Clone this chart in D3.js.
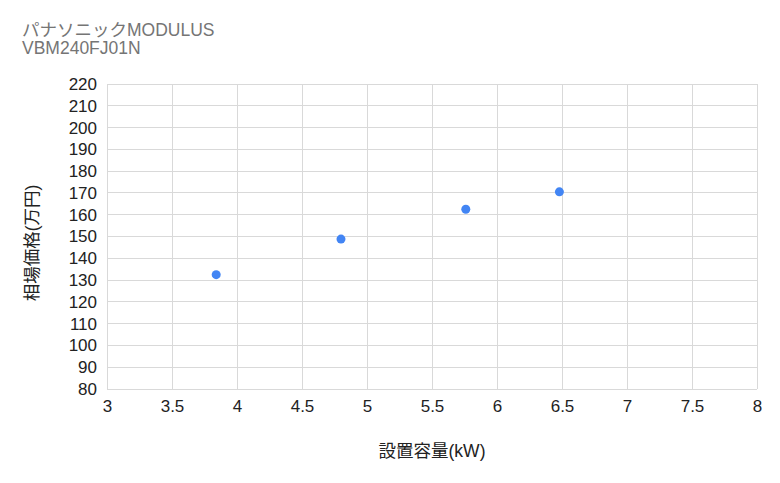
<!DOCTYPE html>
<html>
<head>
<meta charset="utf-8">
<script src="https://cdn.jsdelivr.net/npm/d3@7"></script>
<style>
  body { margin: 0; background: #fff; }
  text { font-family: "Liberation Sans", Arial, "Noto Sans CJK JP", sans-serif; }
</style>
</head>
<body>
<div id="chart"></div>
<script>
const titleLines = ["パナソニックMODULUS", "VBM240FJ01N"];
const capacity = [3.84, 4.8, 5.76, 6.48];
const price = [132.5, 148.8, 162.5, 170.5];
const xTicks = [3, 3.5, 4, 4.5, 5, 5.5, 6, 6.5, 7, 7.5, 8];
const yTicks = [80, 90, 100, 110, 120, 130, 140, 150, 160, 170, 180, 190, 200, 210, 220];

const width = 780, height = 483;
const margin = { top: 84, right: 23, bottom: 94, left: 107 };

const svg = d3.select("#chart").append("svg")
    .attr("width", width)
    .attr("height", height);

const x = d3.scaleLinear().domain([3, 8]).range([margin.left, width - margin.right]);
const y = d3.scaleLinear().domain([80, 220]).range([height - margin.bottom, margin.top]);

// title, two separate lines
svg.append("g").selectAll("text").data(titleLines).enter().append("text")
    .attr("x", 22).attr("y", (d, i) => 36 + i * 18)
    .attr("fill", "#757575").attr("font-size", 17.5)
    .text(d => d);

// grid
svg.append("g").selectAll("line.h").data(yTicks).enter().append("line")
    .attr("x1", x(3)).attr("x2", x(8))
    .attr("y1", d => y(d)).attr("y2", d => y(d))
    .attr("stroke", "#d9d9d9").attr("stroke-width", 1)
    .attr("shape-rendering", "crispEdges");
svg.append("g").selectAll("line.v").data(xTicks).enter().append("line")
    .attr("x1", d => x(d)).attr("x2", d => x(d))
    .attr("y1", y(80)).attr("y2", y(220))
    .attr("stroke", "#d9d9d9").attr("stroke-width", 1)
    .attr("shape-rendering", "crispEdges");

// axes (labels only)
const xAxis = svg.append("g")
    .attr("transform", `translate(0,${y(80)})`)
    .call(d3.axisBottom(x).tickValues(xTicks).tickSize(0).tickPadding(11).tickFormat(d3.format("")));
const yAxis = svg.append("g")
    .attr("transform", `translate(${x(3)},0)`)
    .call(d3.axisLeft(y).tickValues(yTicks).tickSize(0).tickPadding(10));
[xAxis, yAxis].forEach(a => {
    a.select(".domain").remove();
    a.selectAll("text").attr("font-size", 17).attr("fill", "#222")
        .attr("font-family", "'Liberation Sans', Arial, sans-serif");
});

// axis titles
svg.append("text")
    .attr("x", x(5.5)).attr("y", 457)
    .attr("text-anchor", "middle")
    .attr("font-size", 17.5).attr("fill", "#222")
    .text("設置容量(kW)");
svg.append("text")
    .attr("transform", `translate(38,243) rotate(-90)`)
    .attr("text-anchor", "middle")
    .attr("font-size", 17.5).attr("fill", "#222")
    .text("相場価格(万円)");

// points
svg.append("g").selectAll("circle")
    .data(capacity.map((c, i) => ({ c, p: price[i] })))
    .enter().append("circle")
    .attr("cx", d => x(d.c))
    .attr("cy", d => y(d.p))
    .attr("r", 4.5)
    .attr("fill", "#4285f4");
</script>
</body>
</html>
